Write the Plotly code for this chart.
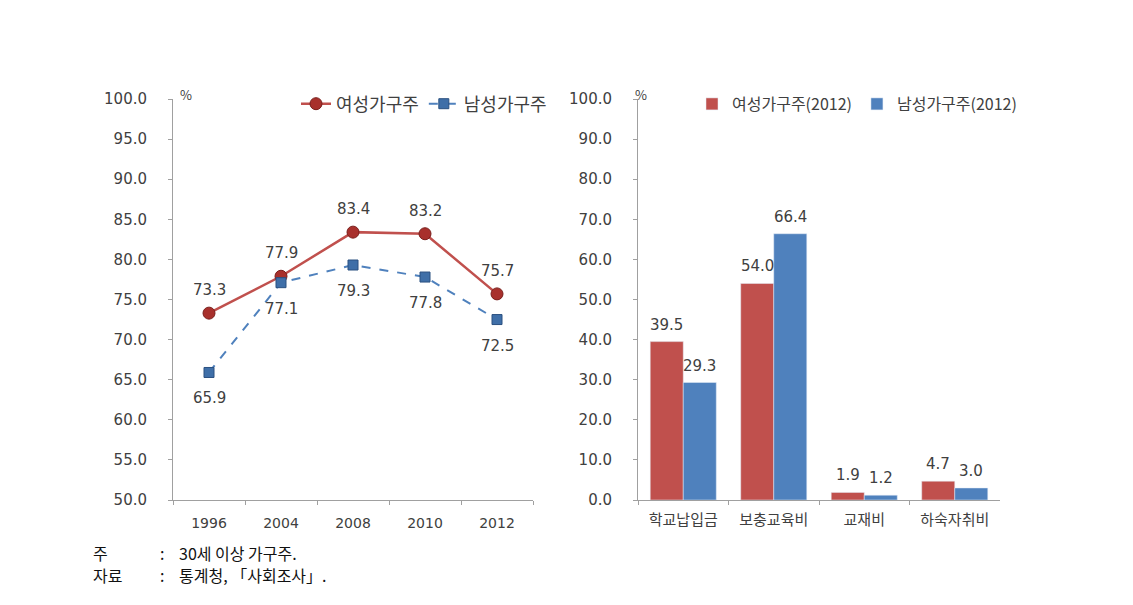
import plotly.graph_objects as go

years = ["1996", "2004", "2008", "2010", "2012"]
female_line = [73.3, 77.9, 83.4, 83.2, 75.7]
male_line = [65.9, 77.1, 79.3, 77.8, 72.5]

categories = ["학교납입금", "보충교육비", "교재비", "하숙자취비"]
female_bar = [39.5, 54.0, 1.9, 4.7]
male_bar = [29.3, 66.4, 1.2, 3.0]

RED = "#C0504D"
BLUE = "#4F81BD"
FONT = "Noto Sans CJK KR"
NUMFONT = "DejaVu Sans"
TXT = "#404040"

fig = go.Figure()

fig.add_trace(go.Scatter(
    x=years, y=female_line, name="여성가구주", mode="lines+markers",
    line=dict(color=RED, width=2.5),
    marker=dict(symbol="circle", size=12, color="#A8302C", line=dict(color="#7A1F1C", width=1)),
    xaxis="x", yaxis="y", legend="legend", cliponaxis=False,
))
fig.add_trace(go.Scatter(
    x=years, y=male_line, name="남성가구주", mode="lines+markers",
    line=dict(color=BLUE, width=2, dash="dash"),
    marker=dict(symbol="square", size=10, color="#3F6FA8", line=dict(color="#2A5080", width=1)),
    xaxis="x", yaxis="y", legend="legend", cliponaxis=False,
))

fig.add_trace(go.Bar(
    x=categories, y=female_bar, name="여성가구주(2012)", marker=dict(color=RED),
    xaxis="x2", yaxis="y2", legend="legend2",
))
fig.add_trace(go.Bar(
    x=categories, y=male_bar, name="남성가구주(2012)", marker=dict(color=BLUE),
    xaxis="x2", yaxis="y2", legend="legend2",
))

OFF = 8  # page body margin
W, H = 1133 - OFF, 605 - OFF
def px(x):
    return (x - OFF) / W
def py(y):
    return (H - (y - OFF)) / H
ydom = [py(500), py(99)]

axis_common = dict(
    showgrid=False, zeroline=False, showline=True, linecolor="#A0A0A0", linewidth=1,
    ticks="outside", tickcolor="#A0A0A0", ticklen=4, automargin=False,
)
yfont = dict(size=15, color=TXT, family=NUMFONT)

BARGAP = 0.27
fig.update_layout(
    width=W, height=H, paper_bgcolor="white", plot_bgcolor="white",
    margin=dict(l=0, r=0, t=0, b=0, autoexpand=False),
    barmode="group", bargap=BARGAP, bargroupgap=0,
    font=dict(family=FONT, color=TXT),
    xaxis=dict(domain=[px(173), px(533)], anchor="y", type="category", tickson="boundaries",
               range=[-0.5, len(years) - 0.5],
               tickfont=dict(size=14, color=TXT, family=NUMFONT), ticklabelstandoff=10, **axis_common),
    yaxis=dict(domain=ydom, anchor="x", range=[50, 100], dtick=5, tickformat=".1f",
               tickfont=yfont, ticklabelstandoff=18, **axis_common),
    xaxis2=dict(domain=[px(638), px(1000)], anchor="y2", type="category", tickson="boundaries",
                range=[-0.5, len(categories) - 0.5],
                tickfont=dict(size=15, color=TXT, family=FONT), ticklabelstandoff=6, **axis_common),
    yaxis2=dict(domain=ydom, anchor="x2", range=[0, 100], dtick=10, tickformat=".1f",
                tickfont=yfont, ticklabelstandoff=18, **axis_common),
    legend=dict(orientation="h", x=px(552), xanchor="right", y=py(104), yanchor="middle",
                font=dict(size=18, color=TXT, family=FONT), bgcolor="rgba(0,0,0,0)",
                itemwidth=30),
    legend2=dict(orientation="h", x=px(1022), xanchor="right", y=py(104), yanchor="middle",
                 font=dict(size=16, color=TXT, family=FONT), bgcolor="rgba(0,0,0,0)",
                 itemwidth=30),
    showlegend=True,
)

lab = dict(showarrow=False, font=dict(size=15, color=TXT, family=NUMFONT))
for i, v in enumerate(female_line):
    fig.add_annotation(x=i, y=v, xref="x", yref="y", text=f"{v:.1f}", yshift=23, **lab)
for i, v in enumerate(male_line):
    fig.add_annotation(x=i, y=v, xref="x", yref="y", text=f"{v:.1f}", yshift=-26, **lab)

# bar labels: centred over each bar of the grouped pair (quarter of the group width in category units)
half = (1 - BARGAP) / 4
for i, (fv, mv) in enumerate(zip(female_bar, male_bar)):
    fig.add_annotation(x=i - half, y=fv, xref="x2", yref="y2", text=f"{fv:.1f}", yshift=17, **lab)
    fig.add_annotation(x=i + half, y=mv, xref="x2", yref="y2", text=f"{mv:.1f}", yshift=17, **lab)

fig.add_annotation(x=px(178), y=py(83), xref="paper", yref="paper", text="%",
                   showarrow=False, font=dict(size=13, color=TXT, family=FONT))
fig.add_annotation(x=px(641), y=py(83), xref="paper", yref="paper", text="%",
                   showarrow=False, font=dict(size=13, color=TXT, family=FONT))

foot = dict(xref="paper", yref="paper", xanchor="left", showarrow=False,
            font=dict(size=16, color="#111111", family=FONT))
fig.add_annotation(x=px(91), y=py(567), text="주", **foot)
fig.add_annotation(x=px(158), y=py(567), text=":", **foot)
fig.add_annotation(x=px(177), y=py(567), text="30세 이상 가구주.", **foot)
fig.add_annotation(x=px(91), y=py(589), text="자료", **foot)
fig.add_annotation(x=px(158), y=py(589), text=":", **foot)
fig.add_annotation(x=px(177), y=py(589), text="통계청, 「사회조사」.", **foot)

fig.write_html("out.html")
